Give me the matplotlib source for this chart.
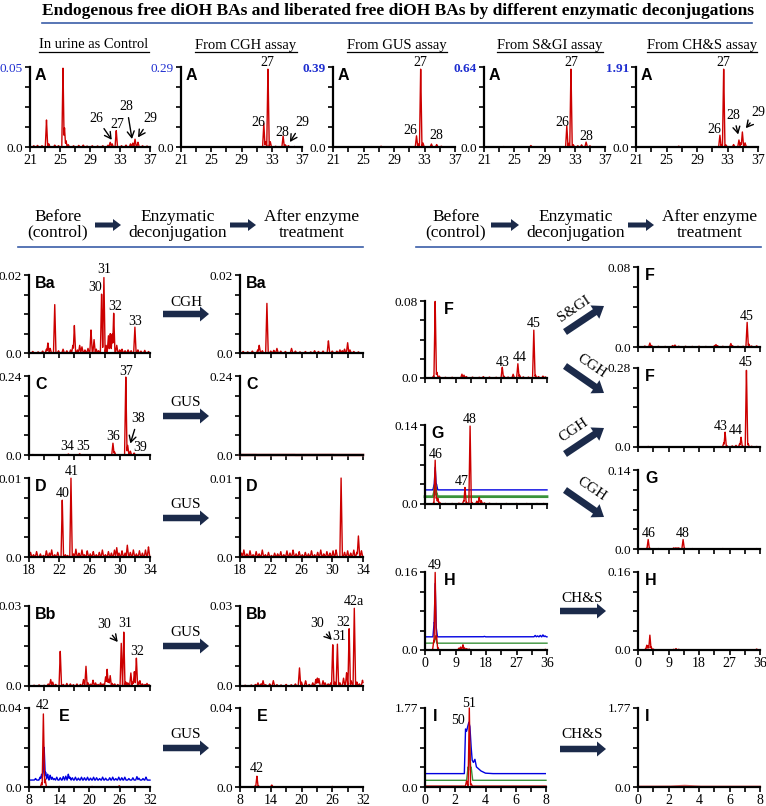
import numpy as np
import matplotlib.pyplot as plt
from matplotlib.patches import FancyArrow

plt.rcParams['font.family'] = 'Liberation Serif'

RED = '#cc0000'
BLUE = '#0000e0'
GREEN = '#3a933a'
NAVY = '#1b2a4a'
RULE = '#3b5ea8'
TOPBLUE = '#1f2fd0'

W, H = 766, 806

# ---------------- data: (retention time, intensity) ----------------
a1 = [(21.5, 0.0008), (22.0, 0.001), (22.6, 0.0008), (23.2, 0.017), (23.5, 0.002), (24.3, 0.0012),
      (24.8, 0.0008), (25.4, 0.05), (25.6, 0.012), (25.8, 0.004), (26.1, 0.0015), (26.8, 0.0008),
      (27.5, 0.001), (28.1, 0.0012), (28.6, 0.0006), (29.3, 0.0008), (30.0, 0.0007), (30.7, 0.0008),
      (31.4, 0.0012), (31.7, 0.003), (31.95, 0.002), (32.5, 0.0105), (33.2, 0.0008), (33.8, 0.0012),
      (34.4, 0.002), (34.7, 0.0025), (35.0, 0.005), (35.4, 0.003), (36.0, 0.0008), (36.6, 0.0006)]
a2 = [(22.3, 0.001), (25.4, 0.001), (27.0, 0.0015), (29.5, 0.001), (31.95, 0.085), (32.2, 0.02),
      (32.5, 0.29), (32.8, 0.02), (33.5, 0.003), (34.5, 0.04), (34.8, 0.008), (35.2, 0.005), (36.0, 0.002)]
a3 = [(23.0, 0.002), (26.0, 0.002), (27.3, 0.004), (31.95, 0.055), (32.2, 0.015), (32.5, 0.39),
      (32.8, 0.02), (33.9, 0.015), (34.6, 0.012), (35.2, 0.004)]
a4 = [(23.6, 0.004), (27.2, 0.012), (31.95, 0.17), (32.2, 0.03), (32.5, 0.64), (32.8, 0.02),
      (33.4, 0.01), (33.9, 0.018), (34.5, 0.04), (35.0, 0.01)]
a5 = [(26.6, 0.02), (32.0, 0.29), (32.2, 0.05), (32.5, 1.91), (32.8, 0.05), (33.8, 0.06),
      (34.5, 0.17), (34.75, 0.1), (34.95, 0.36), (35.3, 0.1)]

ba_before = [(18.5, 0.0004), (19.2, 0.0003), (19.8, 0.0005), (20.3, 0.001), (20.5, 0.0026), (20.8, 0.0012),
             (21.4, 0.0128), (21.9, 0.0006), (22.5, 0.001), (23.0, 0.0006), (23.5, 0.0008), (23.8, 0.002),
             (24.0, 0.0071), (24.4, 0.0008), (24.7, 0.002), (25.0, 0.0016), (25.4, 0.0008), (25.8, 0.0012),
             (26.2, 0.006), (26.6, 0.0035), (26.9, 0.001), (27.2, 0.0006), (27.6, 0.0155), (27.9, 0.02),
             (28.2, 0.002), (28.5, 0.0045), (28.75, 0.005), (29.0, 0.005), (29.2, 0.0104), (29.6, 0.002),
             (30.0, 0.0008), (30.3, 0.001), (30.7, 0.0006), (31.1, 0.0008), (31.5, 0.0006), (32.0, 0.0068),
             (32.4, 0.0008), (32.8, 0.0005), (33.3, 0.0007), (33.8, 0.0004)]
ba_after = [(18.4, 0.0004), (19.0, 0.0003), (19.6, 0.0005), (20.3, 0.0008), (20.5, 0.002), (20.9, 0.0006),
            (21.5, 0.0128), (22.0, 0.0005), (22.4, 0.0007), (22.8, 0.0012), (23.3, 0.0005), (23.9, 0.0004),
            (24.7, 0.0012), (25.2, 0.0005), (25.8, 0.0003), (26.5, 0.0004), (27.2, 0.0003), (27.7, 0.0006),
            (28.2, 0.0004), (28.8, 0.0005), (29.5, 0.0032), (30.0, 0.0005), (30.6, 0.0005), (31.0, 0.0008),
            (31.3, 0.0006), (31.6, 0.001), (32.0, 0.0027), (32.3, 0.0008), (32.8, 0.0004), (33.4, 0.0003)]
c_before = [(18.5, 0.0015), (20.0, 0.001), (21.5, 0.001), (23.2, 0.003), (24.7, 0.0035), (26.0, 0.001),
            (27.5, 0.001), (29.1, 0.036), (29.3, 0.01), (30.8, 0.24), (31.05, 0.03), (31.4, 0.012),
            (31.9, 0.006), (32.5, 0.001), (33.5, 0.001)]
c_after = [(20.0, 0.0005), (25.0, 0.0005), (30.0, 0.0005)]
d_before = [(18.2, 0.0006), (18.6, 0.0003), (19.0, 0.0007), (19.5, 0.0004), (19.9, 0.0002), (20.3, 0.0008),
            (20.7, 0.0005), (21.0, 0.0009), (21.4, 0.0003), (21.8, 0.0006), (22.4, 0.0073), (22.8, 0.0003),
            (23.1, 0.0002), (23.55, 0.01), (23.9, 0.0004), (24.2, 0.001), (24.6, 0.0005), (25.0, 0.0009),
            (25.3, 0.0003), (25.7, 0.0008), (26.1, 0.0004), (26.5, 0.0007), (26.9, 0.0003), (27.3, 0.0006),
            (27.7, 0.0009), (28.1, 0.0003), (28.5, 0.0007), (28.9, 0.0005), (29.3, 0.0009), (29.6, 0.0012),
            (29.9, 0.0005), (30.3, 0.0008), (30.7, 0.0005), (31.0, 0.0015), (31.4, 0.0006), (31.8, 0.0009),
            (32.2, 0.0004), (32.6, 0.0008), (33.0, 0.0005), (33.4, 0.0009), (33.8, 0.0013)]
d_after = [(18.2, 0.0005), (18.5, 0.0009), (18.9, 0.0004), (19.3, 0.0008), (19.7, 0.0003), (20.1, 0.0007),
           (20.5, 0.0004), (20.9, 0.0009), (21.3, 0.0003), (21.7, 0.0006), (22.1, 0.0002), (22.5, 0.0005),
           (22.9, 0.0004), (23.3, 0.0007), (23.7, 0.0003), (24.1, 0.0008), (24.5, 0.0005), (24.9, 0.0009),
           (25.3, 0.0004), (25.7, 0.0007), (26.1, 0.0003), (26.5, 0.0006), (26.9, 0.0004), (27.3, 0.0008),
           (27.7, 0.0003), (28.1, 0.0006), (28.5, 0.0009), (28.9, 0.0004), (29.3, 0.0007), (29.7, 0.0005),
           (30.1, 0.0008), (30.5, 0.0009), (31.15, 0.01), (31.6, 0.0006), (32.0, 0.0008), (32.4, 0.0005),
           (32.8, 0.0009), (33.2, 0.0006), (33.4, 0.0027), (33.8, 0.0008)]
bb_before = [(9.0, 0.0003), (10.0, 0.0004), (11.0, 0.0003), (11.8, 0.0008), (12.3, 0.0025), (12.7, 0.0015),
             (13.3, 0.0006), (14.2, 0.0132), (14.8, 0.0006), (15.5, 0.001), (16.2, 0.0008), (16.8, 0.0005),
             (17.5, 0.0008), (18.2, 0.0006), (18.8, 0.0025), (19.3, 0.0075), (19.7, 0.0012), (20.2, 0.0007),
             (20.7, 0.0022), (21.2, 0.0012), (21.7, 0.0006), (22.2, 0.0012), (22.7, 0.0008), (23.2, 0.0035),
             (23.5, 0.0063), (23.8, 0.0025), (24.1, 0.004), (24.5, 0.001), (25.0, 0.0008), (25.6, 0.0006),
             (26.3, 0.016), (26.8, 0.0205), (27.2, 0.0015), (27.6, 0.0012), (28.2, 0.005), (28.6, 0.0015),
             (28.9, 0.0055), (29.3, 0.0107), (29.7, 0.0015), (30.0, 0.002), (30.5, 0.0008), (31.0, 0.0006),
             (31.4, 0.001), (31.8, 0.0005)]
bb_after = [(9.0, 0.0003), (10.2, 0.0004), (11.0, 0.0006), (11.5, 0.0012), (12.1, 0.0008), (12.5, 0.002),
            (13.0, 0.0005), (13.8, 0.0008), (14.5, 0.002), (15.2, 0.0005), (16.0, 0.0004), (17.0, 0.0006),
            (18.0, 0.0005), (18.8, 0.0008), (19.6, 0.007), (20.0, 0.0015), (20.8, 0.002), (21.5, 0.0006),
            (22.2, 0.0012), (22.8, 0.0025), (23.1, 0.003), (23.4, 0.0028), (24.2, 0.002), (24.6, 0.0012),
            (25.2, 0.0008), (25.7, 0.0012), (26.1, 0.016), (26.5, 0.0015), (27.0, 0.016), (27.5, 0.0012),
            (28.2, 0.003), (28.8, 0.005), (29.3, 0.022), (29.7, 0.002), (30.3, 0.0295), (30.8, 0.0015),
            (31.3, 0.0008), (31.9, 0.0022)]
e_before_red = [(10.5, 0.002), (10.85, 0.037), (11.2, 0.004), (14.0, 0.0003), (20.5, 0.0003),
                (25.9, 0.0006), (29.0, 0.0003)]
e_before_blue = [(9.3, 0.0008), (10.2, 0.0015), (10.5, 0.003), (10.8, 0.004), (11.0, 0.017), (11.3, 0.004),
                 (11.7, 0.003), (12.2, 0.0025), (12.6, 0.0015), (13.0, 0.0008), (13.5, 0.0015), (14.2, 0.0012),
                 (14.8, 0.0018), (15.3, 0.002), (15.8, 0.003), (16.1, 0.0015), (16.6, 0.0012), (17.2, 0.0015),
                 (17.8, 0.001), (18.4, 0.0015), (19.0, 0.0012), (19.6, 0.0015), (20.2, 0.001), (20.8, 0.0015),
                 (21.4, 0.0012), (22.0, 0.0008), (22.6, 0.0015), (23.2, 0.001), (24.0, 0.0012), (24.6, 0.0015),
                 (25.2, 0.0008), (25.8, 0.0015), (26.4, 0.0012), (27.0, 0.0015), (27.8, 0.0008), (28.6, 0.0012),
                 (29.4, 0.0018), (29.8, 0.001), (30.6, 0.0008), (31.2, 0.0015)]
e_blue_base = 0.0035
e_after = [(10.9, 0.0005), (11.3, 0.0055), (11.6, 0.0006), (14.2, 0.001), (20.0, 0.0002), (26.0, 0.0003)]

f_before = [(2.5, 0.002), (3.0, 0.08), (3.5, 0.006), (4.2, 0.002), (6.0, 0.0008), (8.0, 0.0008), (10.9, 0.004),
            (11.5, 0.003), (12.2, 0.0015), (14.0, 0.001), (16.0, 0.0008), (17.2, 0.0015), (19.0, 0.001),
            (21.0, 0.0008), (22.8, 0.0114), (23.3, 0.002), (24.5, 0.001), (26.0, 0.004), (27.4, 0.0149),
            (27.9, 0.003), (29.0, 0.0012), (30.5, 0.001), (32.1, 0.051), (32.6, 0.003), (33.5, 0.0015),
            (34.8, 0.002), (35.5, 0.0012)]
f_sgi = [(2.0, 0.001), (3.5, 0.004), (4.0, 0.0015), (6.0, 0.0008), (8.0, 0.0006), (10.2, 0.0015), (10.9, 0.002),
         (12.0, 0.0008), (14.0, 0.0008), (16.0, 0.0006), (18.0, 0.0008), (20.0, 0.0006), (22.6, 0.0015),
         (23.0, 0.0025), (23.5, 0.0012), (25.0, 0.0008), (27.4, 0.0035), (27.9, 0.0012), (29.5, 0.0008),
         (31.0, 0.0008), (32.2, 0.025), (32.7, 0.003), (33.5, 0.001), (35.0, 0.0012)]
f_cgh = [(3.0, 0.002), (8.0, 0.001), (12.0, 0.001), (18.0, 0.001), (22.0, 0.001), (25.3, 0.015), (25.7, 0.053),
         (26.2, 0.005), (27.8, 0.004), (28.9, 0.006), (30.0, 0.012), (30.4, 0.035), (30.8, 0.005),
         (32.0, 0.28), (32.5, 0.012), (33.5, 0.003), (35.0, 0.002)]
g_before_red = [(2.6, 0.003), (3.0, 0.078), (3.4, 0.012), (3.8, 0.01), (4.3, 0.003), (6.0, 0.001), (8.0, 0.001),
                (10.0, 0.0015), (11.4, 0.006), (11.8, 0.03), (12.3, 0.003), (13.3, 0.14), (13.8, 0.003),
                (15.3, 0.005), (16.0, 0.012), (16.6, 0.006), (17.5, 0.002), (19.0, 0.0015), (21.0, 0.001),
                (24.0, 0.001), (27.0, 0.001), (30.0, 0.001), (33.0, 0.001), (35.0, 0.001)]
g_before_blue = [(2.7, 0.01), (3.0, 0.04), (3.4, 0.01)]
g_before_green = [(2.8, 0.008), (3.0, 0.02), (3.3, 0.006)]
g_blue_base, g_green_base = 0.025, 0.013
g_after = [(2.5, 0.001), (3.0, 0.017), (3.4, 0.002), (6.0, 0.0008), (9.0, 0.0006), (10.5, 0.002), (11.0, 0.002),
           (11.5, 0.002), (12.0, 0.002), (13.3, 0.017), (13.8, 0.001), (16.0, 0.0008), (20.0, 0.0006),
           (25.0, 0.0008), (30.0, 0.0006), (35.0, 0.0008)]
h_before_red = [(2.3, 0.002), (2.6, 0.02), (3.0, 0.16), (3.4, 0.03), (3.8, 0.005), (10.0, 0.004), (10.5, 0.006),
                (11.2, 0.011), (11.7, 0.004), (12.3, 0.003), (13.0, 0.002), (16.0, 0.0008), (20.0, 0.0008),
                (25.0, 0.0008), (30.0, 0.0008), (35.5, 0.0015)]
h_before_blue = [(2.7, 0.03), (3.0, 0.11), (3.3, 0.02), (17.5, 0.001), (32.5, 0.003), (33.2, 0.002),
                 (34.0, 0.003), (34.8, 0.004), (35.4, 0.002)]
h_before_green = [(2.9, 0.008), (3.1, 0.015)]
h_blue_base, h_green_base = 0.027, 0.014
h_after = [(2.3, 0.003), (2.6, 0.01), (3.0, 0.008), (3.5, 0.031), (3.9, 0.006), (4.5, 0.002), (10.5, 0.0015),
           (11.2, 0.003), (12.0, 0.0015), (20.0, 0.0006), (30.0, 0.0006), (35.0, 0.002)]
i_blue_t = [0, 2.6, 2.68, 2.75, 2.82, 2.9, 2.97, 3.05, 3.12, 3.2, 3.3, 3.4, 3.5, 3.7, 4.0, 4.5, 6, 8]
i_blue_y = [0.3, 0.3, 1.3, 1.25, 1.35, 1.45, 1.35, 0.9, 0.6, 0.55, 0.62, 0.45, 0.42, 0.36, 0.31, 0.3, 0.3, 0.3]
i_before_red = [(2.75, 0.12), (2.93, 1.75), (3.05, 0.05)]
i_before_green = [(2.85, 0.3), (2.95, 0.85), (3.05, 0.3)]
i_red_base, i_green_base = 0.02, 0.15
i_after = [(3.0, 0.02)]

fig = plt.figure(figsize=(W / 100, H / 100), dpi=100)


def box(l, t, r, b):
    return [l / W, 1 - b / H, (r - l) / W, (b - t) / H]


def trace(ax, peaks, lo, hi, base=0.0, color=RED, lw=1.0, hw=None):
    x = np.linspace(lo, hi, 1500)
    y = np.zeros_like(x)
    hw = hw or (hi - lo) * 0.01
    for t, h in peaks:
        y = np.maximum(y, h * np.clip(1 - np.abs(x - t) / hw, 0, None))
    ax.plot(x, y + base, color=color, lw=lw, clip_on=False, zorder=3)


def panel(b, lo, hi, ymax, ytop, letter, lx=0.05, xlab=True, top=False, bold=False):
    ax = fig.add_axes(box(*b))
    ax.set_xlim(lo, hi)
    ax.set_ylim(0, ymax)
    for s in ('top', 'right'):
        ax.spines[s].set_visible(False)
    for s in ('left', 'bottom'):
        ax.spines[s].set_linewidth(1.6)
        ax.spines[s].set_zorder(4)
    xt = np.linspace(lo, hi, 9)
    ax.set_xticks(xt)
    ax.set_xticklabels(['%g' % v if (i % 2 == 0 and xlab) else '' for i, v in enumerate(xt)], fontsize=10)
    ax.set_yticks(np.linspace(0, ymax, 5))
    ax.set_yticklabels(['0.0', '', '', '', ytop], fontsize=9.5)
    ax.tick_params(direction='out', length=3.5, width=1.2, pad=1.5)
    ax.patch.set_alpha(0)
    if top:
        lab = ax.get_yticklabels()[-1]
        lab.set_color(TOPBLUE)
        if bold:
            lab.set_fontweight('bold')
    ax.text(lx, 0.985, letter, transform=ax.transAxes, ha='left', va='top',
            family='Liberation Sans', fontweight='bold', fontsize=11.5)
    return ax


def lab(ax, s, x, y, tip=None):
    if tip is None:
        ax.text(x, y, s, ha='center', va='center', fontsize=10)
    else:
        ax.annotate(s, xy=tip, xytext=(x, y), ha='center', va='center', fontsize=10,
                    arrowprops=dict(arrowstyle='->,head_length=0.45,head_width=0.25', lw=1.0, color='black',
                                    shrinkA=1, shrinkB=0))


# ---------------- top row ----------------
top_boxes = [(30, 67, 150, 147), (181, 67, 302, 147), (333, 67, 455, 147), (484, 67, 605, 147), (636, 67, 758, 147)]
top_data = [a1, a2, a3, a4, a5]
top_max = [0.05, 0.29, 0.39, 0.64, 1.91]
top_bold = [False, False, True, True, True]
axA = []
for bx, d, m, bd in zip(top_boxes, top_data, top_max, top_bold):
    ax = panel(bx, 21, 37, m, '%.2f' % m, 'A', lx=0.04, top=True, bold=bd)
    trace(ax, d, 21, 37)
    axA.append(ax)
lab(axA[0], '26', 29.9, 0.018, (31.9, 0.0045))
lab(axA[0], '27', 32.6, 0.0138)
lab(axA[0], '28', 33.9, 0.025, (34.6, 0.005))
lab(axA[0], '29', 37.0, 0.0175, (35.4, 0.006))
lab(axA[1], '26', 31.2, 0.09)
lab(axA[1], '27', 32.4, 0.305)
lab(axA[1], '28', 34.4, 0.052)
lab(axA[1], '29', 37.0, 0.087, (35.4, 0.018))
lab(axA[2], '26', 31.2, 0.078)
lab(axA[2], '27', 32.5, 0.41)
lab(axA[2], '28', 34.6, 0.054)
lab(axA[3], '26', 31.3, 0.2)
lab(axA[3], '27', 32.5, 0.675)
lab(axA[3], '28', 34.5, 0.088)
lab(axA[4], '26', 31.3, 0.41)
lab(axA[4], '27', 32.5, 2.02)
lab(axA[4], '28', 33.8, 0.76, (34.4, 0.3))
lab(axA[4], '29', 37.1, 0.82, (35.4, 0.45))

# ---------------- left block ----------------
ax = panel((29, 275, 150, 353), 18, 34, 0.02, '0.02', 'Ba', xlab=False)
trace(ax, ba_before, 18, 34)
lab(ax, '31', 27.9, 0.0215)
lab(ax, '30', 26.8, 0.0167)
lab(ax, '32', 29.4, 0.012)
lab(ax, '33', 32.0, 0.0082)
ax = panel((240, 275, 363, 353), 18, 34, 0.02, '0.02', 'Ba', xlab=False)
trace(ax, ba_after, 18, 34)

ax = panel((29, 376, 150, 455), 18, 34, 0.24, '0.24', 'C', xlab=False)
trace(ax, c_before, 18, 34)
lab(ax, '37', 30.8, 0.255)
lab(ax, '34', 23.0, 0.027)
lab(ax, '35', 25.1, 0.027)
lab(ax, '36', 29.1, 0.055)
lab(ax, '38', 32.4, 0.11, (31.4, 0.035))
lab(ax, '39', 32.7, 0.024)
ax = panel((240, 376, 363, 455), 18, 34, 0.24, '0.24', 'C', xlab=False)
trace(ax, c_after, 18, 34, color='#d08080', lw=2.0)

ax = panel((29, 478, 150, 557), 18, 34, 0.01, '0.01', 'D')
trace(ax, d_before, 18, 34)
lab(ax, '40', 22.4, 0.0081)
lab(ax, '41', 23.6, 0.0108)
ax = panel((240, 478, 363, 557), 18, 34, 0.01, '0.01', 'D')
trace(ax, d_after, 18, 34)

ax = panel((29, 606, 150, 686), 8, 32, 0.03, '0.03', 'Bb', xlab=False)
trace(ax, bb_before, 8, 32)
lab(ax, '30', 22.9, 0.0229, (25.6, 0.0165))
lab(ax, '31', 27.0, 0.0233)
lab(ax, '32', 29.4, 0.013)
ax = panel((240, 606, 363, 686), 8, 32, 0.03, '0.03', 'Bb', xlab=False)
trace(ax, bb_after, 8, 32)
lab(ax, '30', 23.0, 0.0233, (25.9, 0.0173))
lab(ax, '31', 27.4, 0.0184)
lab(ax, '32', 28.2, 0.024)
lab(ax, '42a', 30.2, 0.0317)

ax = panel((29, 708, 150, 787), 8, 32, 0.04, '0.04', 'E', lx=0.25)
trace(ax, e_before_blue, 8, 32, base=e_blue_base, color=BLUE, lw=1.0)
trace(ax, e_before_red, 8, 32)
lab(ax, '42', 10.8, 0.0415)
ax = panel((240, 708, 363, 787), 8, 32, 0.04, '0.04', 'E', lx=0.14)
trace(ax, e_after, 8, 32)
lab(ax, '42', 11.3, 0.0096)

# ---------------- right block ----------------
ax = panel((425, 301, 547, 378), 0, 36, 0.08, '0.08', 'F', lx=0.155, xlab=False)
trace(ax, f_before, 0, 36)
lab(ax, '43', 22.8, 0.0166)
lab(ax, '44', 28.0, 0.0208)
lab(ax, '45', 32.2, 0.057)
ax = panel((638, 267, 760, 347), 0, 36, 0.08, '0.08', 'F', lx=0.06, xlab=False)
trace(ax, f_sgi, 0, 36)
lab(ax, '45', 32.2, 0.03)
ax = panel((638, 368, 760, 447), 0, 36, 0.28, '0.28', 'F', lx=0.06, xlab=False)
trace(ax, f_cgh, 0, 36)
lab(ax, '43', 24.5, 0.071)
lab(ax, '44', 28.9, 0.06)
lab(ax, '45', 31.9, 0.3)

ax = panel((425, 425, 547, 504), 0, 36, 0.14, '0.14', 'G', lx=0.05, xlab=False)
trace(ax, g_before_blue, 0, 36, base=g_blue_base, color=BLUE)
trace(ax, g_before_green, 0, 36, base=g_green_base, color=GREEN, lw=2.0)
trace(ax, g_before_red, 0, 36)
lab(ax, '46', 3.3, 0.087)
lab(ax, '47', 10.7, 0.039)
lab(ax, '48', 13.3, 0.149)
ax = panel((638, 470, 760, 549), 0, 36, 0.14, '0.14', 'G', lx=0.06, xlab=False)
trace(ax, g_after, 0, 36)
lab(ax, '46', 3.3, 0.028)
lab(ax, '48', 13.1, 0.028)

ax = panel((425, 572, 547, 650), 0, 36, 0.16, '0.16', 'H', lx=0.155)
trace(ax, h_before_blue, 0, 36, base=h_blue_base, color=BLUE)
trace(ax, h_before_green, 0, 36, base=h_green_base, color=GREEN)
trace(ax, h_before_red, 0, 36)
lab(ax, '49', 3.0, 0.174)
ax = panel((638, 572, 760, 650), 0, 36, 0.16, '0.16', 'H', lx=0.06)
trace(ax, h_after, 0, 36)

ax = panel((425, 708, 546, 787), 0, 8, 1.77, '1.77', 'I', lx=0.065)
ax.plot(i_blue_t, i_blue_y, color=BLUE, lw=1.0, zorder=3)
trace(ax, i_before_green, 0, 8, base=i_green_base, color=GREEN, hw=0.1)
trace(ax, i_before_red, 0, 8, base=i_red_base, hw=0.08)
lab(ax, '50', 2.2, 1.5)
lab(ax, '51', 2.9, 1.88)
ax = panel((638, 708, 760, 787), 0, 8, 1.77, '1.77', 'I', lx=0.06)
trace(ax, i_after, 0, 8, base=0.01, color='#e06060', lw=1.4, hw=1.0)

# ---------------- overlay: titles, rules, block arrows ----------------
ov = fig.add_axes([0, 0, 1, 1])
ov.set_xlim(0, W)
ov.set_ylim(H, 0)
ov.axis('off')
ov.patch.set_alpha(0)

ov.text(398, 11, 'Endogenous free diOH BAs and liberated free diOH BAs by different enzymatic deconjugations',
        ha='center', va='center', fontsize=12.5, fontweight='bold')
ov.plot([42, 752], [23, 23], color=RULE, lw=1.2)

sub_titles = ['In urine as Control', 'From CGH assay', 'From GUS assay', 'From S&GI assay', 'From CH&S assay']
sub_x = [94, 246, 397, 550, 702]
sub_texts = [ov.text(x, 45, s, ha='center', va='center', fontsize=10.5) for x, s in zip(sub_x, sub_titles)]

for xs, arrows in (((58, 178, 312), ((95, 121), (230, 256))), ((456, 576, 710), ((491, 519), (628, 654)))):
    for x, s in zip(xs, ('Before\n(control)', 'Enzymatic\ndeconjugation', 'After enzyme\ntreatment')):
        ov.text(x, 225, s, ha='center', va='center', fontsize=12.5, linespacing=0.95)
    for x0, x1 in arrows:
        ov.add_patch(FancyArrow(x0, 225, x1 - x0, 0, width=5, head_width=12, head_length=8,
                                length_includes_head=True, color=NAVY, lw=0))
ov.plot([18, 363], [247, 247], color=RULE, lw=1.2)
ov.plot([416, 761], [247, 247], color=RULE, lw=1.2)

for name, ty, ay in (('CGH', 302, 314), ('GUS', 403, 416), ('GUS', 505, 518), ('GUS', 632, 646), ('GUS', 734, 748)):
    ov.text(186, ty, name, ha='center', va='center', fontsize=11)
    ov.add_patch(FancyArrow(163, ay, 46, 0, width=6.5, head_width=15, head_length=9,
                            length_includes_head=True, color=NAVY, lw=0))
for ty, ay in ((598, 611), (735, 749)):
    ov.text(582, ty, 'CH&S', ha='center', va='center', fontsize=11)
    ov.add_patch(FancyArrow(560, ay, 46, 0, width=6.5, head_width=15, head_length=9,
                            length_includes_head=True, color=NAVY, lw=0))

for name, (tx, ty), (x0, y0, x1, y1), rot in (('S&GI', (574, 309), (565, 332, 604, 306), 34),
                                            ('CGH', (592, 366), (565, 366, 604, 393), -34),
                                            ('CGH', (574, 430), (565, 454, 604, 428), 34),
                                            ('CGH', (592, 489), (565, 490, 604, 517), -34)):
    ov.text(tx, ty, name, ha='center', va='center', fontsize=11, rotation=rot, rotation_mode='anchor')
    ov.add_patch(FancyArrow(x0, y0, x1 - x0, y1 - y0, width=7, head_width=16, head_length=11,
                            length_includes_head=True, color=NAVY, lw=0))

# underline the column titles
fig.canvas.draw()
r = fig.canvas.get_renderer()
for t in sub_texts:
    bb = t.get_window_extent(r)
    ov.plot([bb.x0, bb.x1], [H - bb.y0, H - bb.y0], color='black', lw=0.9)

fig.savefig('out.png', dpi=100)
